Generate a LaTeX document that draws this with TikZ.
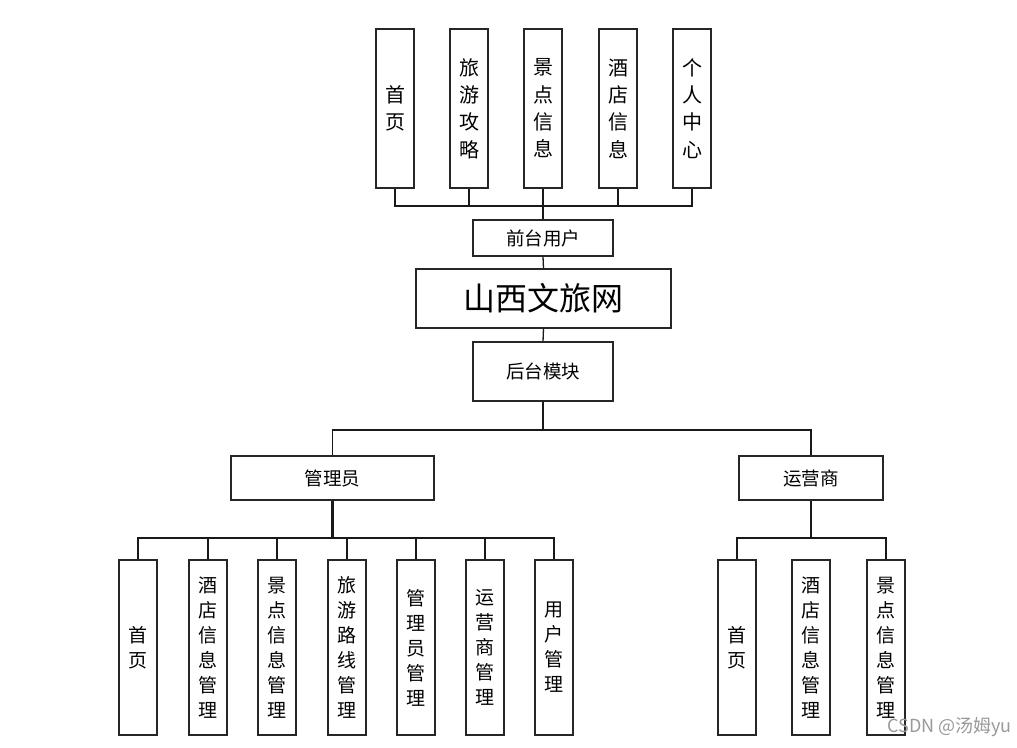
\documentclass[tikz,border=0pt]{standalone}
\usepackage{fontspec}
\newfontfamily\cjk{Noto Sans CJK SC}
\begin{document}
\begin{tikzpicture}[x=1pt,y=-1pt,
  box/.style={draw=black!85,line width=1.3pt,fill=white,inner sep=0pt,align=center},
  tall/.style={box,minimum width=38pt,minimum height=159pt,font=\cjk\fontsize{20}{27.3}\selectfont},
  low/.style={box,minimum width=38pt,minimum height=175pt,font=\cjk\fontsize{19}{25}\selectfont},
  wide/.style={box,font=\cjk\fontsize{18.5}{22}\selectfont},
  conn/.style={line width=1.3pt,black!90}]
\useasboundingbox (0,0) rectangle (1017,747);
% top row
\node[tall] (t1) at (395,108.5) {首\\页};
\node[tall] (t2) at (469,108.5) {旅\\游\\攻\\略};
\node[tall] (t3) at (543,108.5) {景\\点\\信\\息};
\node[tall] (t4) at (618,108.5) {酒\\店\\信\\息};
\node[tall] (t5) at (692,108.5) {个\\人\\中\\心};
\coordinate (busT) at (543,206);
% middle
\node[wide,minimum width=140pt,minimum height=36pt] (fu) at (543,238) {前台用户};
\node[box,minimum width=255pt,minimum height=59pt,font=\cjk\fontsize{32}{36}\selectfont] (main) at (543.5,298.5) {山西文旅网};
\node[wide,minimum width=140pt,minimum height=59pt] (bk) at (543,371.5) {后台模块};
\coordinate (busM) at (543,430);
\node[wide,minimum width=203pt,minimum height=44pt] (adm) at (332.5,478) {管理员};
\node[wide,minimum width=144pt,minimum height=44pt] (op) at (811,478) {运营商};
\coordinate (busA) at (332.5,538);
\coordinate (busO) at (811,538);
% bottom left
\node[low] (a1) at (138,647.5) {首\\页};
\node[low] (a2) at (208,647.5) {酒\\店\\信\\息\\管\\理};
\node[low] (a3) at (277,647.5) {景\\点\\信\\息\\管\\理};
\node[low] (a4) at (347,647.5) {旅\\游\\路\\线\\管\\理};
\node[low] (a5) at (416,647.5) {管\\理\\员\\管\\理};
\node[low] (a6) at (485,647.5) {运\\营\\商\\管\\理};
\node[low] (a7) at (554,647.5) {用\\户\\管\\理};
% bottom right
\node[low] (b1) at (737,647.5) {首\\页};
\node[low] (b2) at (811,647.5) {酒\\店\\信\\息\\管\\理};
\node[low] (b3) at (886,647.5) {景\\点\\信\\息\\管\\理};
% connectors top
\draw[conn] (t1.south) |- (busT) -| (t5.south);
\foreach \n in {t2,t3,t4} \draw[conn] (\n.south) -- (\n.south |- busT);
\draw[conn] (fu.north) -- (busT);
\draw[conn] (fu.south) -- (main.north);
\draw[conn] (main.south) -- (bk.north);
\draw[conn] (bk.south) -- (busM);
\draw[conn] (adm.north) |- (busM) -| (op.north);
% admin
\draw[line width=2.2pt,black!90] (adm.south) -- (busA);
\draw[conn] (a1.north) |- (busA) -| (a7.north);
\foreach \n in {a2,a3,a4,a5,a6} \draw[conn] (\n.north) -- (\n.north |- busA);
% operator
\draw[conn] (op.south) -- (busO);
\draw[conn] (b1.north) |- (busO) -| (b3.north);
% watermark
\node[anchor=east,text=black!40,font=\cjk\fontsize{18}{20}\selectfont,inner sep=0pt] (wm) at (1012,727) {CSDN @汤姆yu};
\end{tikzpicture}
\end{document}
